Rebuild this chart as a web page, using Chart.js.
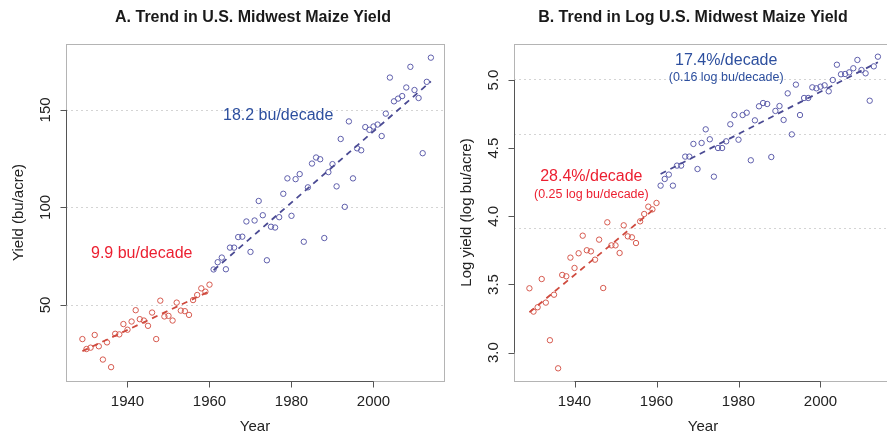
<!DOCTYPE html>
<html>
<head>
<meta charset="utf-8">
<script src="https://cdn.jsdelivr.net/npm/chart.js@4.4.1/dist/chart.umd.min.js"></script>
<style>
  html, body { margin: 0; padding: 0; background: #fff; overflow: hidden }
  #wrap { position: relative; width: 887px; height: 434px; overflow: hidden }
  #chartA { position: absolute; left: 0; top: 0 }
  #chartB { position: absolute; left: 445px; top: 0 }
</style>
</head>
<body>
<div id="wrap">
  <canvas id="chartA" width="450" height="434"></canvas>
  <canvas id="chartB" width="455" height="434"></canvas>
</div>
<script>
// years split at the break in trend
var yearsEarly = [1929, 1930, 1931, 1932, 1933, 1934, 1935, 1936, 1937, 1938, 1939, 1940, 1941, 1942, 1943, 1944,
  1945, 1946, 1947, 1948, 1949, 1950, 1951, 1952, 1953, 1954, 1955, 1956, 1957, 1958, 1959, 1960]
var yearsLate = [1961, 1962, 1963, 1964, 1965, 1966, 1967, 1968, 1969, 1970, 1971, 1972, 1973, 1974, 1975, 1976,
  1977, 1978, 1979, 1980, 1981, 1982, 1983, 1984, 1985, 1986, 1987, 1988, 1989, 1990, 1991, 1992, 1993, 1994,
  1995, 1996, 1997, 1998, 1999, 2000, 2001, 2002, 2003, 2004, 2005, 2006, 2007, 2008, 2009, 2010, 2011, 2012,
  2013, 2014]

// panel A: yield (bu/acre)
var yieldEarly = [32.5, 27.4, 28.1, 34.6, 28.8, 22.0, 30.8, 18.1, 35.2, 34.9, 40.2, 37.3, 41.5, 47.3, 42.7, 42.0,
  39.3, 46.1, 32.5, 52.2, 44.1, 44.4, 42.0, 51.2, 47.1, 46.8, 44.9, 52.5, 55.1, 58.5, 56.8, 60.4]
var yieldLate = [68.2, 71.9, 74.3, 68.3, 79.4, 79.4, 84.8, 85.0, 92.8, 77.2, 93.3, 103.3, 96.0, 72.9, 90.1, 89.7,
  95.0, 107.0, 114.9, 95.7, 114.5, 117.1, 82.4, 110.3, 122.5, 125.6, 124.7, 84.3, 118.1, 122.2, 110.8, 135.1,
  100.3, 144.1, 114.9, 130.3, 129.3, 141.2, 139.8, 141.5, 142.5, 136.6, 148.1, 166.6, 154.4, 155.8, 157.1, 161.5,
  172.1, 160.2, 156.1, 127.8, 164.4, 176.8]

// panel B: log yield (log bu/acre)
var logYieldEarly = [3.472, 3.301, 3.333, 3.540, 3.367, 3.091, 3.425, 2.885, 3.570, 3.560, 3.697, 3.621, 3.729,
  3.858, 3.751, 3.743, 3.682, 3.829, 3.474, 3.956, 3.787, 3.787, 3.731, 3.934, 3.853, 3.846, 3.804, 3.963, 4.017,
  4.071, 4.051, 4.098]
var logYieldLate = [4.225, 4.274, 4.306, 4.225, 4.372, 4.372, 4.438, 4.438, 4.531, 4.347, 4.538, 4.638, 4.565,
  4.291, 4.501, 4.501, 4.550, 4.675, 4.743, 4.562, 4.743, 4.760, 4.411, 4.704, 4.807, 4.831, 4.824, 4.435, 4.773,
  4.809, 4.707, 4.902, 4.601, 4.966, 4.743, 4.868, 4.868, 4.946, 4.939, 4.951, 4.961, 4.917, 5.000, 5.112, 5.042,
  5.044, 5.056, 5.086, 5.147, 5.073, 5.049, 4.848, 5.100, 5.171]

// fitted trend lines (end points)
var trendYearsEarly = [1929, 1960]
var trendYearsLate = [1961, 2014]
var trendYieldEarly = [26.3, 57.0]
var trendYieldLate = [67.8, 164.6]
var trendLogEarly = [3.296, 4.068]
var trendLogLate = [4.31, 5.13]

// axis ticks and grid
var xTicks = [1940, 1960, 1980, 2000]
var yTicksA = [50, 100, 150]
var yTicksB = [3.0, 3.5, 4.0, 4.5, 5.0]
var gridYieldA = [50, 100, 150]
var gridYieldB = [50, 100, 150]

var RED_PT = "#d65a4f", RED_LN = "#cf4a3e", RED_TX = "#ec1f30"
var BLUE_PT = "#5e5eab", BLUE_LN = "#4a4a93", BLUE_TX = "#2d4f9e"
var FONT = "'Liberation Sans', Arial, Helvetica, sans-serif"

function pts(xs, ys) {
  var out = []
  for (var i = 0; i < xs.length; i++) out.push({x: xs[i], y: ys[i]})
  return out
}

var decor = {
  id: "decor",
  beforeDatasetsDraw: function (chart, args, o) {
    var ctx = chart.ctx, a = chart.chartArea, ys = chart.scales.y
    ctx.save()
    ctx.strokeStyle = "#d4d4d4"
    ctx.lineWidth = 1
    ctx.setLineDash([2, 3])
    o.grid.forEach(function (v) {
      var py = Math.round(ys.getPixelForValue(v)) + 0.5
      ctx.beginPath()
      ctx.moveTo(a.left, py)
      ctx.lineTo(a.right, py)
      ctx.stroke()
    })
    ctx.restore()
  },
  afterDraw: function (chart, args, o) {
    var ctx = chart.ctx, a = chart.chartArea, xs = chart.scales.x, ys = chart.scales.y
    ctx.save()
    // light frame
    ctx.strokeStyle = "#b4b4b4"
    ctx.lineWidth = 1
    ctx.strokeRect(Math.round(a.left) + 0.5, Math.round(a.top) + 0.5, Math.round(a.right - a.left), Math.round(a.bottom - a.top))

    // x axis
    var by = Math.round(a.bottom) + 0.5
    ctx.strokeStyle = "#555"
    ctx.beginPath()
    ctx.moveTo(xs.getPixelForValue(xTicks[0]), by)
    ctx.lineTo(xs.getPixelForValue(xTicks[xTicks.length - 1]), by)
    xTicks.forEach(function (t) {
      var px = Math.round(xs.getPixelForValue(t)) + 0.5
      ctx.moveTo(px, by)
      ctx.lineTo(px, by + 6)
    })
    ctx.stroke()
    ctx.fillStyle = "#222"
    ctx.font = "15px " + FONT
    ctx.textAlign = "center"
    ctx.textBaseline = "middle"
    xTicks.forEach(function (t) {
      ctx.fillText(String(t), xs.getPixelForValue(t), a.bottom + 21)
    })
    ctx.fillText("Year", (a.left + a.right) / 2, a.bottom + 46)

    // y axis
    var lx = Math.round(a.left) + 0.5
    ctx.beginPath()
    ctx.moveTo(lx, ys.getPixelForValue(o.yTicks[0]))
    ctx.lineTo(lx, ys.getPixelForValue(o.yTicks[o.yTicks.length - 1]))
    o.yTicks.forEach(function (t) {
      var py = Math.round(ys.getPixelForValue(t)) + 0.5
      ctx.moveTo(lx, py)
      ctx.lineTo(lx - 6, py)
    })
    ctx.stroke()
    o.yTicks.forEach(function (t) {
      ctx.save()
      ctx.translate(a.left - 20, ys.getPixelForValue(t))
      ctx.rotate(-Math.PI / 2)
      ctx.fillText(o.yFmt(t), 0, 0)
      ctx.restore()
    })
    ctx.save()
    ctx.translate(a.left - 47, (a.top + a.bottom) / 2)
    ctx.rotate(-Math.PI / 2)
    ctx.fillText(o.yTitle, 0, 0)
    ctx.restore()

    // panel title
    ctx.font = "bold 16px " + FONT
    ctx.fillStyle = "#1a1a1a"
    ctx.fillText(o.title, o.titleX, 18)

    // slope notes
    o.notes.forEach(function (n) {
      ctx.font = n.size + "px " + FONT
      ctx.fillStyle = n.color
      ctx.textAlign = n.align
      ctx.fillText(n.text, xs.getPixelForValue(n.x), ys.getPixelForValue(n.y))
    })
    ctx.restore()
  }
}

function makeChart(id, cfg) {
  return new Chart(document.getElementById(id), {
    type: "scatter",
    data: {
      datasets: [
        {type: "line", data: pts(trendYearsEarly, cfg.trendEarly), borderColor: RED_LN, borderWidth: 1.8,
          borderDash: [6, 5], pointRadius: 0, fill: false},
        {type: "line", data: pts(trendYearsLate, cfg.trendLate), borderColor: BLUE_LN, borderWidth: 1.8,
          borderDash: [6, 5], pointRadius: 0, fill: false},
        {data: pts(yearsEarly, cfg.early), borderColor: RED_PT, backgroundColor: "rgba(0,0,0,0)",
          pointRadius: 2.7, borderWidth: 1},
        {data: pts(yearsLate, cfg.late), borderColor: BLUE_PT, backgroundColor: "rgba(0,0,0,0)",
          pointRadius: 2.7, borderWidth: 1}
      ]
    },
    options: {
      responsive: false,
      animation: false,
      layout: {padding: {top: 44, right: cfg.padRight, bottom: 0, left: 0}},
      scales: {
        x: {type: "linear", min: cfg.xMin, max: cfg.xMax, ticks: {display: false}, grid: {display: false},
          border: {display: false}, afterFit: function (s) { s.height = 53 }},
        y: {type: "linear", min: cfg.yMin, max: cfg.yMax, ticks: {display: false}, grid: {display: false},
          border: {display: false}, afterFit: function (s) { s.width = cfg.axisW }}
      },
      plugins: {
        legend: {display: false},
        tooltip: {enabled: false},
        decor: cfg.decor
      }
    },
    plugins: [decor]
  })
}

makeChart("chartA", {
  early: yieldEarly, late: yieldLate, trendEarly: trendYieldEarly, trendLate: trendYieldLate,
  xMin: 1925.0, xMax: 2017.2, yMin: 11.0, yMax: 183.8, axisW: 66, padRight: 6,
  decor: {
    grid: gridYieldA,
    yTicks: yTicksA,
    yFmt: function (v) { return String(v) },
    yTitle: "Yield (bu/acre)",
    title: "A. Trend in U.S. Midwest Maize Yield",
    titleX: 253,
    notes: [
      {text: "9.9 bu/decade", x: 1931.1, y: 76.2, color: RED_TX, size: 16, align: "left"},
      {text: "18.2 bu/decade", x: 1963.3, y: 147.1, color: BLUE_TX, size: 16, align: "left"}
    ]
  }
})

makeChart("chartB", {
  early: logYieldEarly, late: logYieldLate, trendEarly: trendLogEarly, trendLate: trendLogLate,
  xMin: 1925.24, xMax: 2017.44, yMin: 2.792, yMax: 5.264, axisW: 69, padRight: 8,
  decor: {
    grid: gridYieldB.map(function (v) { return Math.log(v) }),
    yTicks: yTicksB,
    yFmt: function (v) { return v.toFixed(1) },
    yTitle: "Log yield (log bu/acre)",
    title: "B. Trend in Log U.S. Midwest Maize Yield",
    titleX: 693 - 445,
    notes: [
      {text: "17.4%/decade", x: 1977.0, y: 5.141, color: BLUE_TX, size: 16, align: "center"},
      {text: "(0.16 log bu/decade)", x: 1977.0, y: 5.015, color: BLUE_TX, size: 12.5, align: "center"},
      {text: "28.4%/decade", x: 1944.1, y: 4.288, color: RED_TX, size: 16, align: "center"},
      {text: "(0.25 log bu/decade)", x: 1944.1, y: 4.163, color: RED_TX, size: 12.5, align: "center"}
    ]
  }
})
</script>
</body>
</html>
